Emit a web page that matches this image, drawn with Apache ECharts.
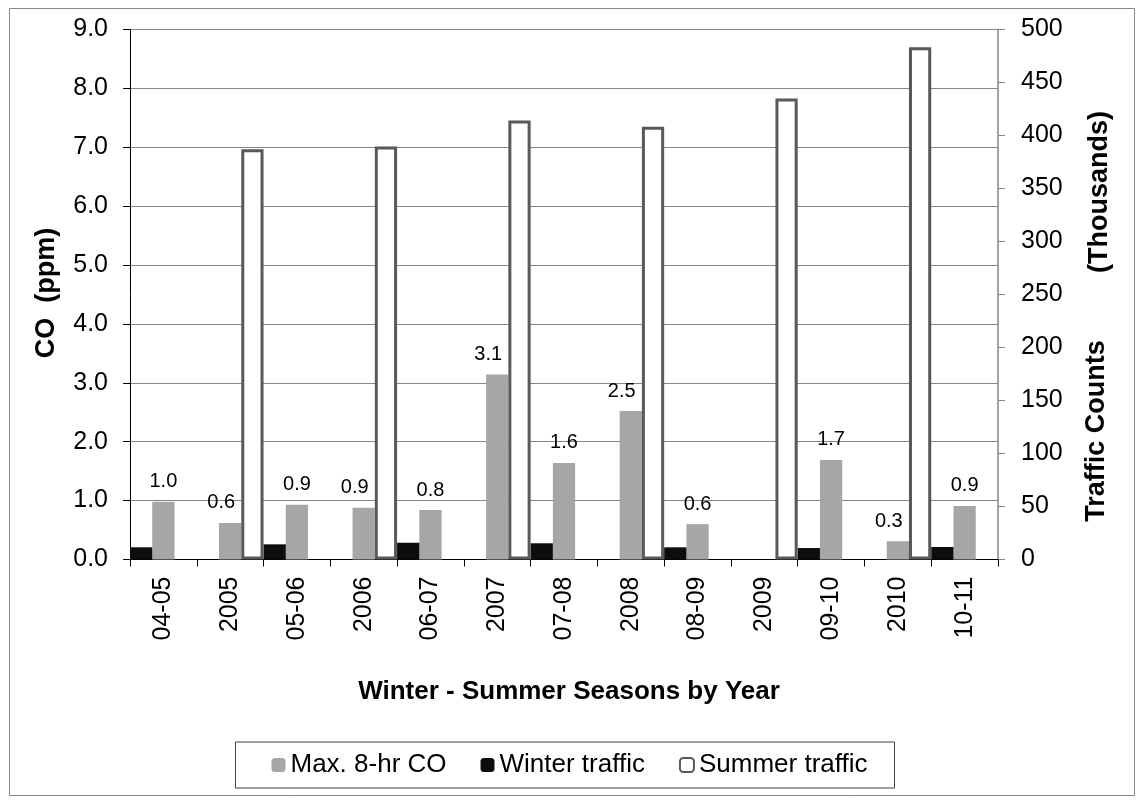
<!DOCTYPE html>
<html>
<head>
<meta charset="utf-8">
<script src="https://cdn.jsdelivr.net/npm/echarts@6/dist/echarts.min.js"></script>
<style>
  html, body { margin: 0; padding: 0; background: #ffffff; }
  #chart { width: 1139px; height: 800px; }
</style>
</head>
<body>
<div id="chart"></div>
<script>
// ---- data ----
const categories = ['04-05', '2005', '05-06', '2006', '06-07', '2007', '07-08', '2008', '08-09', '2009', '09-10', '2010', '10-11'];
const coValues = [0.98, 0.62, 0.93, 0.88, 0.84, 3.14, 1.64, 2.52, 0.60, null, 1.69, 0.31, 0.91];
const winterTraffic = [11.5, null, 14.3, null, 15.8, null, 15.3, null, 11.5, null, 10.8, null, 11.8];
const summerTraffic = [null, 387, null, 389.5, null, 414, null, 408, null, 434.7, null, 483, null];
const seriesNames = ['Max. 8-hr CO', 'Winter traffic', 'Summer traffic'];
const xTitle = 'Winter - Summer Seasons by Year';
const leftTitle = 'CO  (ppm)';
const rightTitleA = 'Traffic Counts';
const rightTitleB = '(Thousands)';

// ---- chart ----
const FONT = "'Liberation Sans', Arial, sans-serif";
const chart = echarts.init(document.getElementById('chart'), null, { renderer: 'canvas' });

const coData = coValues.map(function (v, i) {
  // labels of the summer-year columns sit slightly to the left (as in the reference)
  const isYear = /^\d{4}$/.test(categories[i]);
  return { value: v, label: isYear ? { offset: [-9, 0] } : {} };
});

const option = {
  backgroundColor: '#ffffff',
  animation: false,
  textStyle: { fontFamily: FONT },
  grid: { left: 130, right: 141, top: 29.3, bottom: 240.5, containLabel: false },
  legend: {
    data: seriesNames,
    left: 'center',
    top: 742,
    orient: 'horizontal',
    itemWidth: 14,
    itemHeight: 14,
    itemGap: 34,
    padding: [10, 27, 10, 36],
    borderColor: '#404040',
    borderWidth: 1,
    textStyle: { fontSize: 26, color: '#000', fontFamily: FONT },
    selectedMode: false
  },
  xAxis: {
    type: 'category',
    data: categories,
    boundaryGap: true,
    axisLine: { show: true, lineStyle: { color: '#000', width: 1 } },
    axisTick: { show: true, inside: false, length: 7, lineStyle: { color: '#000' } },
    axisLabel: { rotate: 90, fontSize: 25, color: '#000', margin: 17, fontFamily: FONT, interval: 0 },
    splitLine: { show: false }
  },
  yAxis: [
    {
      type: 'value', min: 0, max: 9, interval: 1, position: 'left',
      axisLine: { show: true, lineStyle: { color: '#000', width: 1 } },
      axisTick: { show: true, inside: false, length: 7, lineStyle: { color: '#000' } },
      axisLabel: { fontSize: 25, color: '#000', margin: 22, fontFamily: FONT, formatter: function (v) { return v.toFixed(1); } },
      splitLine: { show: true, lineStyle: { color: '#868686', width: 1 } }
    },
    {
      type: 'value', min: 0, max: 500, interval: 50, position: 'right',
      axisLine: { show: true, lineStyle: { color: '#868686', width: 1.5 } },
      axisTick: { show: true, inside: false, length: 7, lineStyle: { color: '#868686' } },
      axisLabel: { fontSize: 25, color: '#000', margin: 23, fontFamily: FONT },
      splitLine: { show: false }
    }
  ],
  series: [
    {
      name: 'Winter traffic', type: 'bar', yAxisIndex: 1,
      data: winterTraffic,
      barGap: '0%', barCategoryGap: '0%',
      itemStyle: { color: '#0d0d0d' },
      z: 3
    },
    {
      name: 'Max. 8-hr CO', type: 'bar', yAxisIndex: 0,
      data: coData,
      barGap: '0%', barCategoryGap: '0%',
      itemStyle: { color: '#a6a6a6' },
      label: {
        show: true, position: 'top', distance: 10,
        fontSize: 20, color: '#000', fontFamily: FONT,
        formatter: function (p) { return p.value == null ? '' : Number(p.value).toFixed(1); }
      },
      z: 2
    },
    {
      name: 'Summer traffic', type: 'bar', yAxisIndex: 1,
      data: summerTraffic,
      barGap: '0%', barCategoryGap: '0%',
      itemStyle: { color: '#ffffff', borderColor: '#595959', borderWidth: 3 },
      z: 3
    }
  ],
  graphic: [
    {
      type: 'rect', left: 7, top: 6, silent: true, z: -10,
      shape: { width: 1125, height: 787 },
      style: { fill: 'none', stroke: '#868686', lineWidth: 1 }
    },
    {
      type: 'text', x: 47, y: 293, rotation: Math.PI / 2, silent: true,
      style: { text: leftTitle, font: 'bold 27px ' + FONT, fill: '#000', align: 'center', verticalAlign: 'middle' }
    },
    {
      type: 'text', x: 1097, y: 431, rotation: Math.PI / 2, silent: true,
      style: { text: rightTitleA, font: 'bold 27px ' + FONT, fill: '#000', align: 'center', verticalAlign: 'middle' }
    },
    {
      type: 'text', x: 1100, y: 192, rotation: Math.PI / 2, silent: true,
      style: { text: rightTitleB, font: 'bold 27px ' + FONT, fill: '#000', align: 'center', verticalAlign: 'middle' }
    },
    {
      type: 'text', x: 569, y: 692, silent: true,
      style: { text: xTitle, font: 'bold 26px ' + FONT, fill: '#000', align: 'center', verticalAlign: 'middle' }
    }
  ]
};
chart.setOption(option);
</script>
</body>
</html>
